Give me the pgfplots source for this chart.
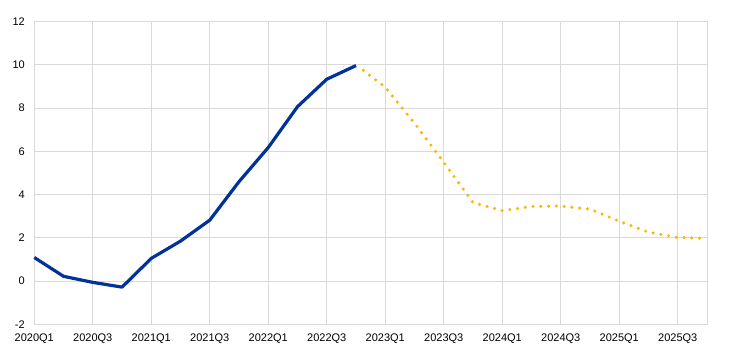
\documentclass[border=0pt]{standalone}
\usepackage{pgfplots}
\pgfplotsset{compat=1.18}
\usepackage{fontspec}
\setmainfont{Liberation Sans}
\definecolor{ecbblue}{HTML}{003299}
\definecolor{ecbyellow}{HTML}{FFB400}
\definecolor{gridgray}{HTML}{D9D9D9}
\begin{document}
\begin{tikzpicture}
\useasboundingbox (-34.3bp,-29.7bp) rectangle (708.7bp,324.3bp);
\begin{axis}[
  scale only axis,
  width=672.7bp, height=302.6bp,
  at={(0,0)}, anchor=south west,
  xmin=0, xmax=23,
  ymin=-2, ymax=12,
  ytick={-2,0,...,12},
  xtick={0,2,...,22},
  xticklabels={2020Q1,2020Q3,2021Q1,2021Q3,2022Q1,2022Q3,2023Q1,2023Q3,2024Q1,2024Q3,2025Q1,2025Q3},
  grid=major,
  major grid style={draw=gridgray, line width=0.9bp},
  axis line style={draw=gridgray, line width=0.9bp},
  tick style={draw=none},
  major tick length=0pt,
  /pgf/number format/assume math mode=true,
  tick label style={font=\fontsize{11bp}{13bp}\selectfont, text=black},
  yticklabel style={xshift=-6bp},
  xticklabel style={yshift=-5.5bp},
  clip=false,
]
\addplot[ecbblue, line width=3.2bp, line join=round] coordinates {
(0,1.09) (1,0.22) (2,-0.06) (3,-0.28) (4,1.05) (5,1.85) (6,2.82) (7,4.6)
(8,6.18) (9,8.07) (10,9.34) (11,9.97)
};
\addplot[ecbyellow, line width=3.4bp, line cap=round, dash pattern=on 0pt off 7.8bp] coordinates {
(11.25,9.75) (12,8.97) (13,7.30) (14,5.49) (15,3.63) (16,3.26) (17,3.45) (18,3.47) (19,3.33)
(20,2.77) (21,2.26) (22,2.02) (23,1.97)
};
\end{axis}
\end{tikzpicture}
\end{document}
